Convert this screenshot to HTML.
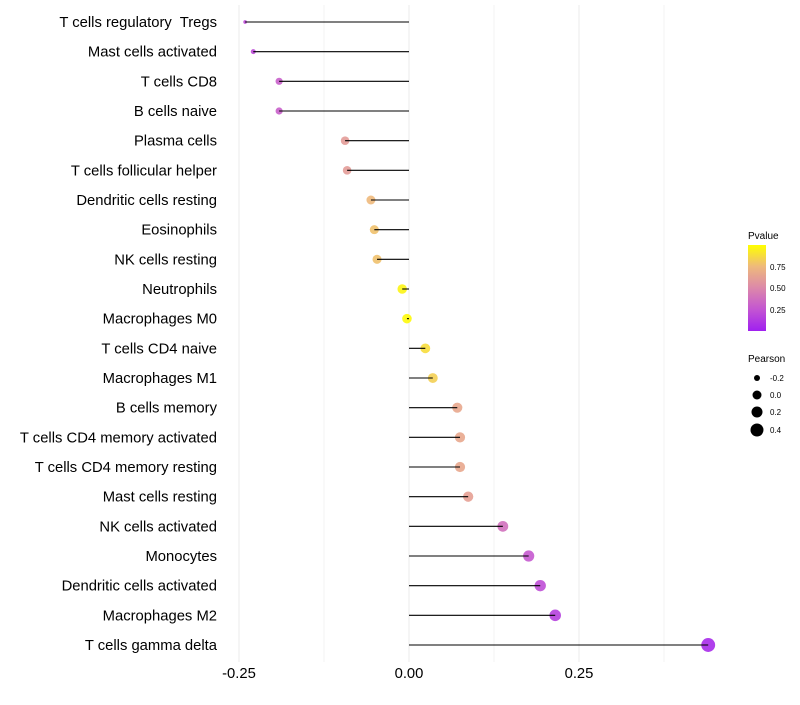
<!DOCTYPE html>
<html><head><meta charset="utf-8"><style>
body{margin:0;background:#fff;}
svg text{font-family:"Liberation Sans",sans-serif;white-space:pre;}
</style></head><body>
<svg id="chart" width="800" height="700" xmlns="http://www.w3.org/2000/svg">
<g id="grid"></g>
<g id="marks"></g>
<g id="ylabels"></g>
<g id="xlabels"></g>
<g id="legend">
<defs><linearGradient id="pg" x1="0" y1="1" x2="0" y2="0">
<stop offset="0" stop-color="#a020f0"/><stop offset="0.25" stop-color="#c355d2"/><stop offset="0.5" stop-color="#dc88aa"/><stop offset="0.75" stop-color="#eeb97c"/><stop offset="1" stop-color="#ffff00"/></linearGradient></defs>
<text x="748" y="239" font-size="10">Pvalue</text>
<rect x="748" y="245" width="18" height="86" fill="url(#pg)"/>
<text x="770" y="270" font-size="8">0.75</text>
<text x="770" y="291" font-size="8">0.50</text>
<text x="770" y="313" font-size="8">0.25</text>
<text x="748" y="362" font-size="10">Pearson</text>
<circle cx="757" cy="378" r="3" fill="#000"/>
<circle cx="757" cy="395" r="4.5" fill="#000"/>
<circle cx="757" cy="412" r="5.5" fill="#000"/>
<circle cx="757" cy="430" r="6.5" fill="#000"/>
<text x="770" y="381" font-size="8">-0.2</text>
<text x="770" y="398" font-size="8">0.0</text>
<text x="770" y="415" font-size="8">0.2</text>
<text x="770" y="433" font-size="8">0.4</text>
</g>
</svg>
<script>
const categories=["T cells regulatory  Tregs","Mast cells activated","T cells CD8","B cells naive","Plasma cells","T cells follicular helper","Dendritic cells resting","Eosinophils","NK cells resting","Neutrophils","Macrophages M0","T cells CD4 naive","Macrophages M1","B cells memory","T cells CD4 memory activated","T cells CD4 memory resting","Mast cells resting","NK cells activated","Monocytes","Dendritic cells activated","Macrophages M2","T cells gamma delta"];
const pearson=[-0.241,-0.229,-0.191,-0.191,-0.094,-0.091,-0.056,-0.051,-0.047,-0.010,-0.003,0.024,0.035,0.071,0.075,0.075,0.087,0.138,0.176,0.193,0.215,0.440];
const pvalues=[0.2,0.2,0.3,0.3,0.6,0.6,0.75,0.78,0.78,0.96,0.98,0.88,0.83,0.66,0.66,0.66,0.62,0.38,0.27,0.22,0.15,0.05];
const xTicks=[-0.25,0,0.25];
const xTickLabels=["-0.25","0.00","0.25"];
const NS="http://www.w3.org/2000/svg";
const x=v=>409+v*680;
const y=i=>22+i*29.667;
const stops=[[0,[160,32,240]],[0.25,[195,85,210]],[0.5,[220,136,170]],[0.75,[238,185,124]],[1,[255,255,0]]];
function col(p){for(let k=1;k<stops.length;k++){if(p<=stops[k][0]){const a=stops[k-1],b=stops[k],t=(p-a[0])/(b[0]-a[0]);return "rgb("+a[1].map((c,j)=>Math.round(c+(b[1][j]-c)*t)).join(",")+")";}}return "rgb(255,255,0)";}
const sizeAnchors=[[-0.245,1.6],[-0.229,2.5],[-0.19,3.6],[-0.09,4.3],[0,4.8],[0.1,5.2],[0.2,5.7],[0.45,7]];
function r(v){for(let k=1;k<sizeAnchors.length;k++){const a=sizeAnchors[k-1],b=sizeAnchors[k];if(v<=b[0]){const t=Math.max(0,(v-a[0])/(b[0]-a[0]));return a[1]+(b[1]-a[1])*t;}}return 7;}
function mk(t,a,parent){const e=document.createElementNS(NS,t);for(const k in a)e.setAttribute(k,a[k]);document.getElementById(parent).appendChild(e);return e;}
for(let k=-2;k<=3;k++){const v=k*0.125;const g=mk("line",{x1:x(v),x2:x(v),y1:5,y2:662,stroke:"#ebebeb","stroke-width":k%2==0?1:0.6},"grid");

}
categories.forEach((c,i)=>{
 const cy=y(i);
 const pt=mk("circle",{cx:x(pearson[i]),cy:cy,r:r(pearson[i]),fill:col(pvalues[i]),"fill-opacity":0.9},"marks");
 
 
 const ln=mk("line",{x1:x(0),x2:x(pearson[i]),y1:cy,y2:cy,stroke:"#000","stroke-width":1.1},"marks");
 
 
 const t=mk("text",{x:217,y:cy+5,"text-anchor":"end","font-size":14.8,fill:"#000"},"ylabels");
 t.textContent=c;
 
 
});
xTicks.forEach((v,i)=>{const t=mk("text",{x:x(v),y:678,"text-anchor":"middle","font-size":14.8,fill:"#000"},"xlabels");
t.textContent=xTickLabels[i];

});
</script>
</body></html>
